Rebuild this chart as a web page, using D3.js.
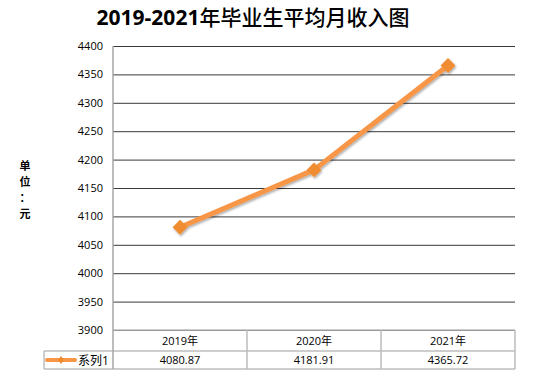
<!DOCTYPE html>
<html><head><meta charset="utf-8">
<script src="https://cdn.jsdelivr.net/npm/d3@7/dist/d3.min.js"></script>
<style>body{margin:0;background:#fff}svg{display:block}</style>
</head><body>
<svg id="c" width="543" height="379"></svg>
<script>
const categories = ["2019年", "2020年", "2021年"];
const values = [4080.87, 4181.91, 4365.72];
const valueLabels = ["4080.87", "4181.91", "4365.72"];
const yTicks = [3900, 3950, 4000, 4050, 4100, 4150, 4200, 4250, 4300, 4350, 4400];
const seriesName = "系列1";
const titleParts = ["2019-2021", "年毕业生平均月收入图"];
const yLabel = ["单", "位", "：", "元"];

(function () {
const svg = d3.select("#c");
const pL = 113, pR = 515, pT = 46, pB = 330;
const x = d3.scaleBand().domain(categories).range([pL, pR]);
const y = d3.scaleLinear().domain([3900, 4400]).range([pB, pT]);
const font = "'Open Sans','Noto Sans CJK SC',sans-serif";

const defs = svg.append("defs");
const f = defs.append("filter").attr("id", "sh").attr("x", "-50%").attr("y", "-50%").attr("width", "200%").attr("height", "200%");
f.append("feDropShadow").attr("dx", 1).attr("dy", 1.5).attr("stdDeviation", 1.2).attr("flood-color", "#000").attr("flood-opacity", 0.35);

// title
const t = svg.append("text").attr("x", 253).attr("y", 25).attr("text-anchor", "middle")
  .attr("font-family", "'Open Sans','Noto Sans CJK SC',sans-serif")
  .attr("font-size", 21).attr("fill", "#000");
t.append("tspan").attr("font-weight", "bold").text(titleParts[0]);
t.append("tspan").attr("font-family", "'Noto Sans CJK SC',sans-serif").attr("font-weight", "500").text(titleParts[1]);

// gridlines
const yAxis = d3.axisLeft(y).tickValues(yTicks).tickSize(-(pR - pL)).tickPadding(10).tickFormat(d3.format("d"));
const g = svg.append("g").attr("transform", `translate(${pL},0)`).call(yAxis);
g.select(".domain").remove();
g.selectAll(".tick line").attr("stroke", "#3a3a3a").attr("stroke-width", 1);
g.selectAll(".tick text").attr("font-family", font).attr("font-size", 11).attr("fill", "#000");

// y label
svg.append("g").selectAll("text").data(yLabel).join("text")
  .attr("x", 25).attr("y", (d, i) => 170 + i * 16).attr("text-anchor", "middle")
  .attr("font-family", "'Noto Sans CJK SC',sans-serif").attr("font-weight", "bold").attr("font-size", 11)
  .attr("fill", "#000").text(d => d);

// table
const tTop = 330, tMid = 351, tBot = 369, legLeft = 44;
const tbl = svg.append("g").attr("stroke", "#bdbdbd").attr("stroke-width", 1.5).attr("fill", "none");
tbl.append("line").attr("x1", pL).attr("x2", pR).attr("y1", tTop).attr("y2", tTop);
tbl.append("line").attr("x1", legLeft).attr("x2", pR).attr("y1", tMid).attr("y2", tMid);
tbl.append("line").attr("x1", legLeft).attr("x2", pR).attr("y1", tBot).attr("y2", tBot);
tbl.append("line").attr("x1", legLeft).attr("x2", legLeft).attr("y1", tMid).attr("y2", tBot);
const cols = categories.map(c => x(c) + x.bandwidth());
tbl.selectAll("line.col").data(cols).join("line").attr("class", "col")
  .attr("x1", d => d).attr("x2", d => d).attr("y1", tTop).attr("y2", tBot);
svg.append("line").attr("x1", pL).attr("x2", pL).attr("y1", pT).attr("y2", tBot)
  .attr("stroke", "#a6a6a6").attr("stroke-width", 1.5);

svg.append("g").selectAll("text").data(categories).join("text")
  .attr("x", d => x(d) + x.bandwidth() / 2).attr("y", 345).attr("text-anchor", "middle")
  .attr("font-family", font).attr("font-size", 11).attr("fill", "#000").text(d => d);
svg.append("g").selectAll("text").data(valueLabels).join("text")
  .attr("x", (d, i) => x(categories[i]) + x.bandwidth() / 2).attr("y", 364).attr("text-anchor", "middle")
  .attr("font-family", font).attr("font-size", 11).attr("fill", "#000").text(d => d);

// legend
svg.append("line").attr("x1", 47).attr("x2", 75).attr("y1", 360).attr("y2", 360)
  .attr("stroke", "#f79646").attr("stroke-width", 4).attr("stroke-linecap", "round");
svg.append("path").attr("d", d3.symbol(d3.symbolDiamond, 30)()).attr("transform", "translate(61,360) scale(1,0.8)").attr("fill", "#ef8a2f");
svg.append("text").attr("x", 78).attr("y", 365).attr("font-family", font).attr("font-size", 12).attr("fill", "#000").text(seriesName);

// line
const cx = (d, i) => x(categories[i]) + x.bandwidth() / 2;
const line = d3.line().x(cx).y(d => y(d));
const lg = svg.append("g").attr("filter", "url(#sh)");
lg.append("path").datum(values).attr("d", line).attr("fill", "none")
  .attr("stroke", "#f79646").attr("stroke-width", 5).attr("stroke-linejoin", "round");
lg.selectAll("path.m").data(values).join("path").attr("class", "m")
  .attr("d", d3.symbol(d3.symbolSquare, 110)())
  .attr("transform", (d, i) => `translate(${cx(d, i)},${y(d)}) rotate(45)`)
  .attr("fill", "#f08c32");
})();
</script>
</body></html>
